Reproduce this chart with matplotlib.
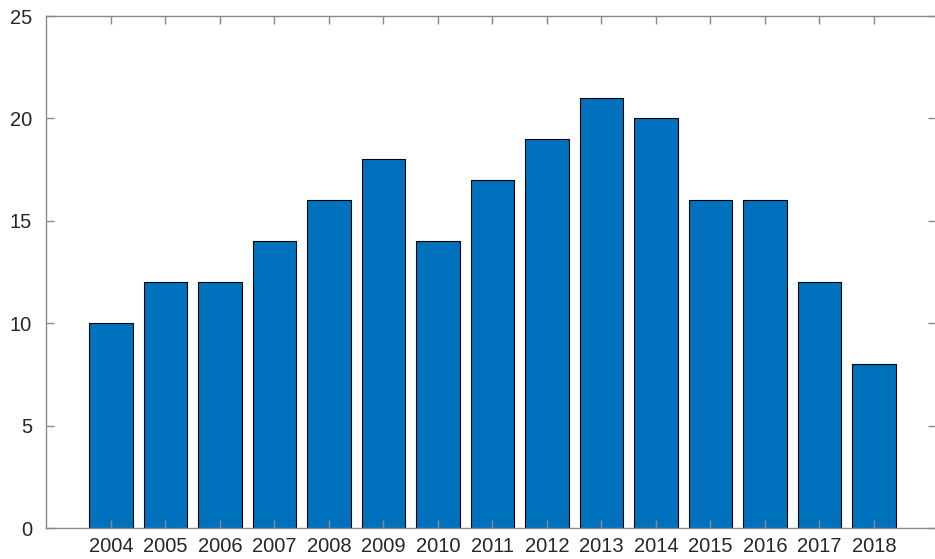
import matplotlib
matplotlib.use("Agg")
import matplotlib.pyplot as plt

years = [2004, 2005, 2006, 2007, 2008, 2009, 2010, 2011,
         2012, 2013, 2014, 2015, 2016, 2017, 2018]
counts = [10, 12, 12, 14, 16, 18, 14, 17, 19, 21, 20, 16, 16, 12, 8]
y_ticks = [0, 5, 10, 15, 20, 25]

plt.rcParams['font.family'] = ['Liberation Sans', 'DejaVu Sans']

fig = plt.figure(figsize=(9.35, 5.59), dpi=100)
# axes box: left 46px, top 16px, bottom 528px, right edge just past the image
ax = fig.add_axes([46 / 935, 1 - 528 / 559, 890 / 935, 512 / 559])

ax.bar(years, counts, width=0.8, color='#0072BD', edgecolor='black', linewidth=0.8)

ax.set_xlim(2002.81, 2019.14)
ax.set_ylim(0, 25)
ax.set_xticks(years)
ax.set_yticks(y_ticks)

axis_grey = '#8a8a8a'
for s in ax.spines.values():
    s.set_color(axis_grey)
    s.set_linewidth(1.0)
ax.tick_params(direction='in', length=6, width=1.0, color=axis_grey,
               labelcolor='#262626', labelsize=14.5,
               top=True, right=True)
ax.tick_params(axis='x', pad=6.5)
ax.tick_params(axis='y', pad=10)

fig.savefig('out.png', dpi=100)
